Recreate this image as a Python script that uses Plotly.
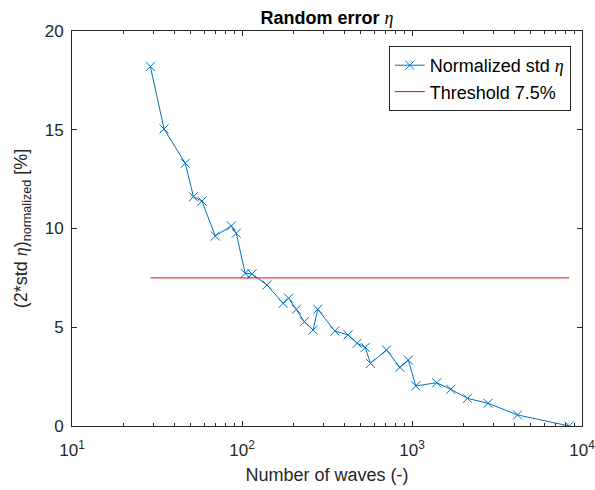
import plotly.graph_objects as go

n_waves = [28.9, 34.8, 46.4, 51.8, 58.1, 69.6, 86.5, 92.5, 104.4, 114.5, 140.2, 174.6, 188.0,
           209, 232.9, 262, 279, 351.7, 421, 475.7, 530.6, 570, 708, 849, 951, 1052, 1397,
           1690, 2120, 2801, 4178, 8410]
std_norm = [18.2, 15.04, 13.3, 11.61, 11.39, 9.62, 10.13, 9.76, 7.73, 7.70, 7.14, 6.21, 6.47,
            5.91, 5.28, 4.86, 5.91, 4.81, 4.61, 4.19, 3.98, 3.17, 3.85, 2.97, 3.34, 2.03, 2.19,
            1.86, 1.40, 1.15, 0.56, 0.0]
threshold = 7.5
x_tickvals = [10, 100, 1000, 10000]
x_ticktext = ["10<sup>1</sup>", "10<sup>2</sup>", "10<sup>3</sup>", "10<sup>4</sup>"]
y_tickvals = [0, 5, 10, 15, 20]
minor_vals = [k * d for d in x_tickvals[:-1] for k in range(2, 10)]

eta = '<span style="font-family:\'Liberation Serif\', serif;font-style:italic">η</span>'
blue = "#0072BD"
axc = "#262626"
font = "Liberation Sans, Arial, sans-serif"

fig = go.Figure()
fig.add_trace(go.Scatter(
    x=n_waves, y=std_norm, mode="lines+markers",
    name="Normalized std " + eta, legendgroup="a",
    line=dict(color=blue, width=1),
    marker=dict(symbol="x-thin", size=9, line=dict(color=blue, width=1), color=blue),
))
fig.add_trace(go.Scatter(
    x=[n_waves[0], n_waves[-1]], y=[threshold, threshold], mode="lines",
    name="Threshold 7.5%", legendgroup="b", line=dict(color="#FF0000", width=1),
))

minor_style = dict(tickmode="array", tickvals=minor_vals, ticks="inside", ticklen=3,
                   tickcolor=axc, showgrid=False)

fig.update_layout(
    width=595, height=490,
    margin=dict(l=72, r=13, t=31, b=64, autoexpand=False),
    paper_bgcolor="white", plot_bgcolor="white",
    font=dict(family=font, color=axc, size=16),
    title=dict(text="<b>Random error </b>" + eta, x=0.5, xref="paper", y=1, yref="paper",
               yanchor="bottom", pad=dict(b=7), font=dict(size=18, color="black")),
    showlegend=True,
    legend=dict(x=0.978, y=0.962, xanchor="right", yanchor="top",
                bordercolor=axc, borderwidth=1, bgcolor="white",
                font=dict(size=18, color="black"), tracegroupgap=0),
    xaxis=dict(
        type="log", range=[1, 4], tickmode="array", tickvals=x_tickvals, ticktext=x_ticktext,
        ticks="inside", ticklen=5, tickcolor=axc, showgrid=False, zeroline=False,
        showline=True, linecolor=axc, linewidth=1, mirror="ticks", automargin=False,
        tickfont=dict(size=17, color=axc), ticklabelstandoff=9, ticklabeloverflow="allow",
        minor=minor_style,
        title=dict(text="Number of waves (-)", font=dict(size=18, color=axc), standoff=8),
    ),
    yaxis=dict(
        range=[0, 20], tickmode="array", tickvals=y_tickvals,
        ticks="inside", ticklen=5, tickcolor=axc, showgrid=False, zeroline=False,
        showline=True, linecolor=axc, linewidth=1, mirror="ticks", automargin=False,
        tickfont=dict(size=17, color=axc), ticklabelstandoff=4, ticklabeloverflow="allow",
        title=dict(text="(2*std " + eta + ")<sub>normalized</sub> [%]",
                   font=dict(size=18, color=axc), standoff=12),
    ),
)

fig.write_html("out.html", config={"displayModeBar": False},
               post_script="document.body.style.margin='0';document.body.style.padding='0';")
